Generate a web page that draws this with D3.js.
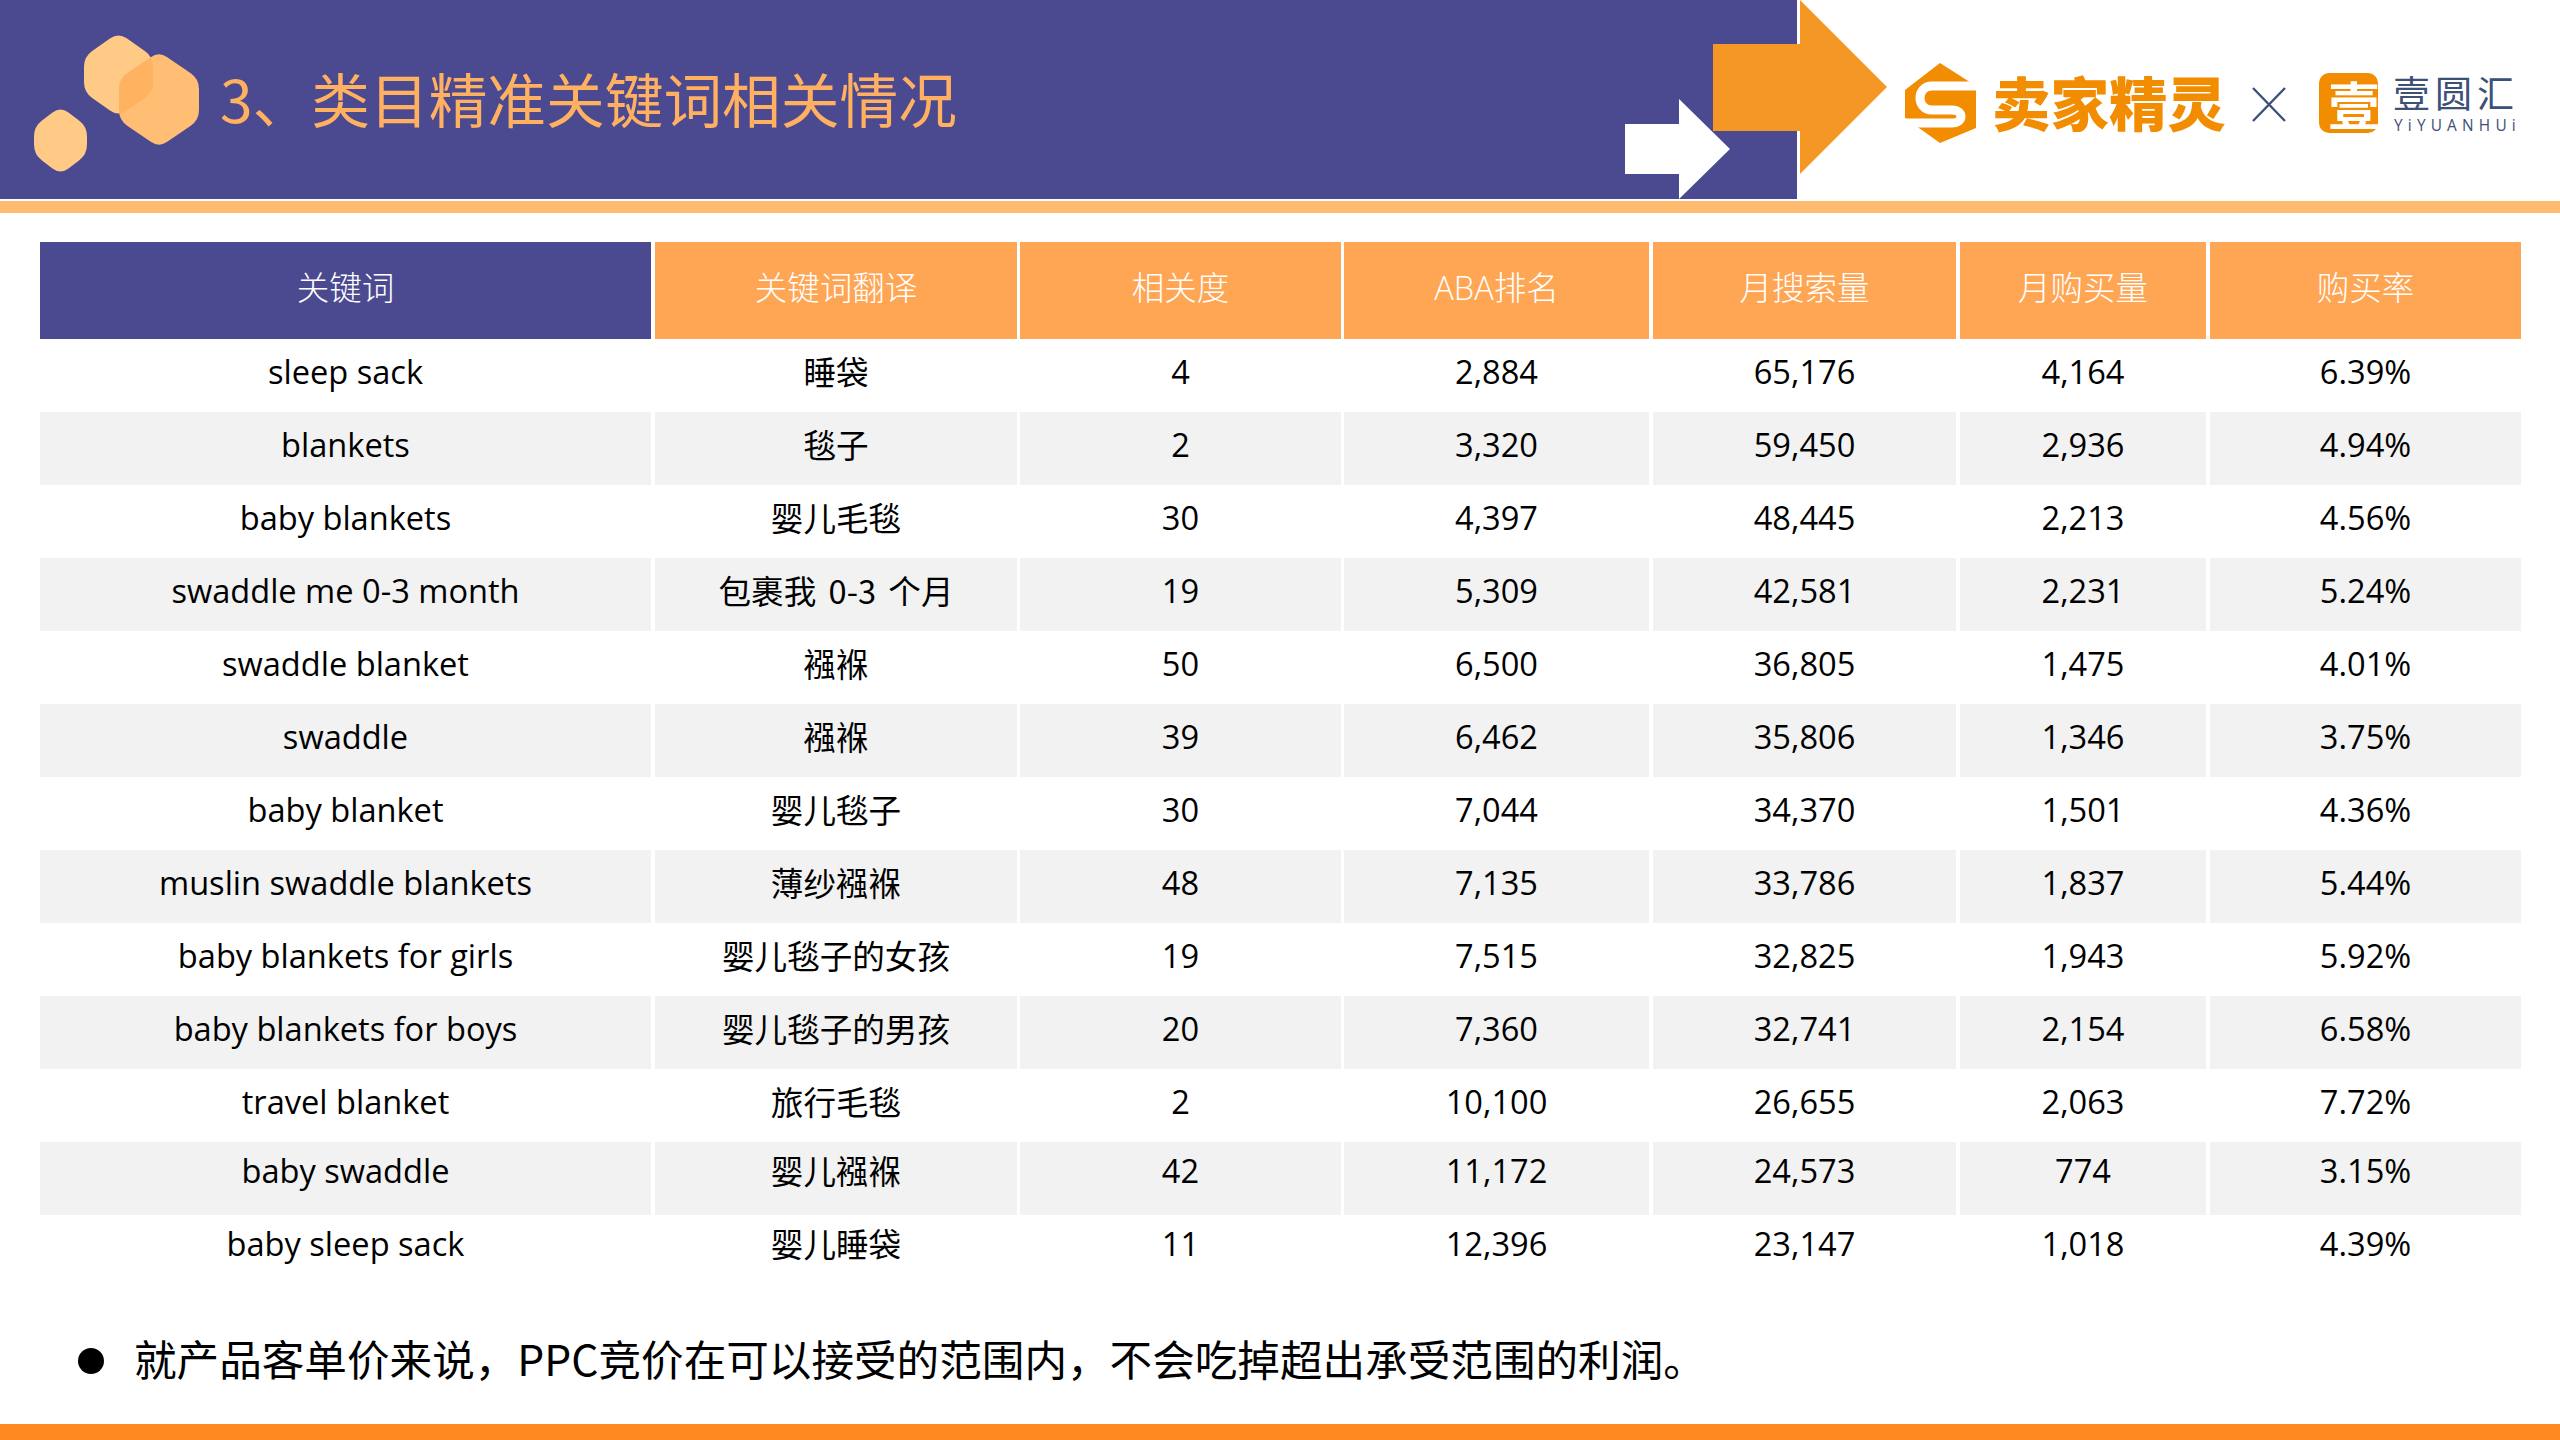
<!DOCTYPE html>
<html lang="zh"><head><meta charset="utf-8">
<script src="https://cdn.jsdelivr.net/npm/d3@7"></script>
<style>html,body{margin:0;padding:0;background:#fff}svg{display:block}</style>
</head><body><div id="chart"></div>
<script>
const headers = ["关键词","关键词翻译","相关度","ABA排名","月搜索量","月购买量","购买率"];
const keywords = ["sleep sack","blankets","baby blankets","swaddle me 0-3 month","swaddle blanket","swaddle","baby blanket","muslin swaddle blankets","baby blankets for girls","baby blankets for boys","travel blanket","baby swaddle","baby sleep sack"];
const translations = ["睡袋","毯子","婴儿毛毯","包裹我 0-3 个月","襁褓","襁褓","婴儿毯子","薄纱襁褓","婴儿毯子的女孩","婴儿毯子的男孩","旅行毛毯","婴儿襁褓","婴儿睡袋"];
const relevance = [4,2,30,19,50,39,30,48,19,20,2,42,11];
const abaRank = [2884,3320,4397,5309,6500,6462,7044,7135,7515,7360,10100,11172,12396];
const monthlySearch = [65176,59450,48445,42581,36805,35806,34370,33786,32825,32741,26655,24573,23147];
const monthlyBuy = [4164,2936,2213,2231,1475,1346,1501,1837,1943,2154,2063,774,1018];
const buyRate = [6.39,4.94,4.56,5.24,4.01,3.75,4.36,5.44,5.92,6.58,7.72,3.15,4.39];
const titleText = "3、类目精准关键词相关情况";
const noteText = "就产品客单价来说\uFF0CPPC竞价在可以接受的范围内\uFF0C不会吃掉超出承受范围的利润。";

const W=2560,H=1440;
const CJK='"Noto Sans CJK SC","Noto Sans",sans-serif';
const BODY='"Open Sans","Noto Sans CJK SC",sans-serif';
const svg=d3.select("#chart").append("svg").attr("width",W).attr("height",H).attr("viewBox",[0,0,W,H]);
const indigo="#4b4a90", hdr="#ffa655";

// banner
svg.append("rect").attr("width",1797).attr("height",199).attr("fill",indigo);
svg.append("rect").attr("y",201).attr("width",W).attr("height",12).attr("fill","#ffbb6f");
svg.append("rect").attr("y",1424).attr("width",W).attr("height",16).attr("fill","#ff8a1f");

// hexagons: rounded polygons
const hex=(x0,x1,y0,y1)=>{
 const c=(x0+x1)/2,d=(y1-y0)*0.27,t=3.5,
  v=[[c,y0-t],[x1,y0+d],[x1,y1-d],[c,y1+t],[x0,y1-d],[x0,y0+d]],r=10;
 const n=v.length;let s="";
 v.forEach((p,i)=>{const a=v[(i+n-1)%n],b=v[(i+1)%n];
  const la=Math.hypot(a[0]-p[0],a[1]-p[1]),lb=Math.hypot(b[0]-p[0],b[1]-p[1]);
  const p1=[p[0]+(a[0]-p[0])*r/la,p[1]+(a[1]-p[1])*r/la],p2=[p[0]+(b[0]-p[0])*r/lb,p[1]+(b[1]-p[1])*r/lb];
  s+=(i?"L":"M")+p1+"Q"+p+" "+p2;});
 return s+"Z";};
const hA=hex(84,153,36,113),hB=hex(119,199,55,144),hC=hex(34,87,110,171);
svg.append("clipPath").attr("id","hexclip").append("path").attr("d",hA);
svg.append("path").attr("d",hA).attr("fill","#ffc986");
svg.append("path").attr("d",hB).attr("fill","#ffbe73");
svg.append("path").attr("d",hB).attr("fill","#ffb25f").attr("clip-path","url(#hexclip)");
svg.append("path").attr("d",hC).attr("fill","#ffc986");
svg.append("text").attr("x",220).attr("y",97).attr("dominant-baseline","central").attr("font-family",CJK)
 .attr("font-weight",400).attr("font-size",58.7).attr("fill","#ffb060").text(titleText);

// arrows
svg.append("path").attr("d","M1625,124H1679V99L1730,149L1679,199V174H1625Z").attr("fill","#fff");
svg.append("path").attr("d","M1713,44H1800V0L1887,87L1800,174V131H1713Z").attr("fill","#f59725");

// logos
const logo="#f28c00";
svg.append("path").attr("d","M1940,63L1976,86V128L1940,143L1905,118V90Z").attr("fill",logo);
svg.append("path").attr("d","M1976,86H1932C1916,86 1916,110 1932,110H1952C1964,110 1964,123 1952,123H1905").attr("fill","none").attr("stroke","#fff").attr("stroke-width",9);
svg.append("text").attr("x",2109).attr("y",100).attr("text-anchor","middle").attr("dominant-baseline","central")
 .attr("font-family",CJK).attr("font-weight",900).attr("font-size",58.5).attr("fill",logo).text("卖家精灵");
svg.append("path").attr("d","M2253,88L2285,121M2285,88L2253,121").attr("stroke","#3d5078").attr("stroke-width",2.4).attr("fill","none");
svg.append("rect").attr("x",2319).attr("y",73).attr("width",59).attr("height",60).attr("rx",10).attr("fill",logo);
svg.append("text").attr("x",2354).attr("y",103).attr("text-anchor","middle").attr("dominant-baseline","central")
 .attr("font-family",CJK).attr("font-weight",700).attr("font-size",52).attr("fill","#fff").text("壹");
svg.append("text").attr("x",2393).attr("y",92).attr("dominant-baseline","central").attr("font-family",CJK)
 .attr("font-size",37).attr("letter-spacing",5).attr("fill","#3d5078").text("壹圆汇");
svg.append("text").attr("x",2394).attr("y",125).attr("dominant-baseline","central").attr("font-family",BODY)
 .attr("font-size",15.4).attr("letter-spacing",5.2).attr("fill","#3d5078").text("YiYUANHUi");

// table
const colLeft=[40,655,1020,1344,1653,1960,2210];
const colRight=[651,1017,1341,1649,1956,2206,2521];
const x0=d3.scaleOrdinal(headers,colLeft), x1=d3.scaleOrdinal(headers,colRight);
const cx=h=>(x0(h)+x1(h))/2;
const y=d3.scaleBand().domain(keywords).range([339,1288]);
const fmt=d3.format(",");
const cols=[keywords,translations,relevance,abaRank.map(fmt),monthlySearch.map(fmt),monthlyBuy.map(fmt),buyRate.map(v=>v.toFixed(2)+"%")];

svg.append("g").selectAll("rect").data(headers).join("rect")
 .attr("x",d=>x0(d)).attr("y",242).attr("width",d=>x1(d)-x0(d)).attr("height",97)
 .attr("fill",(d,i)=>i?hdr:indigo);
svg.append("g").selectAll("text").data(headers).join("text")
 .attr("x",cx).attr("y",287).attr("text-anchor","middle").attr("dominant-baseline","central")
 .attr("font-family",BODY).attr("font-weight",300).attr("font-size",32.5).attr("fill","#fff").text(d=>d);

const stripes=keywords.filter((d,i)=>i%2==1);
svg.append("g").selectAll("g").data(stripes).join("g").selectAll("rect")
 .data(k=>headers.map(h=>({k,h}))).join("rect")
 .attr("x",d=>x0(d.h)).attr("y",d=>y(d.k)).attr("width",d=>x1(d.h)-x0(d.h)).attr("height",y.bandwidth()).attr("fill","#f2f2f2");

headers.forEach((h,c)=>{
 svg.append("g").selectAll("text").data(keywords).join("text")
  .attr("x",cx(h)).attr("y",(k,i)=>y(k)+y.bandwidth()/2-(i>=11?8:4)-(c==1?1.5:0))
  .attr("text-anchor","middle").attr("dominant-baseline","central")
  .attr("font-family",c==1?CJK:BODY).attr("font-size",32.6).attr("word-spacing",c==1?5:0).attr("fill","#000")
  .text((k,i)=>cols[c][i]);
});

// note
svg.append("circle").attr("cx",91).attr("cy",1361).attr("r",13).attr("fill","#000");
svg.append("text").attr("x",134).attr("y",1357).attr("dominant-baseline","central").attr("font-family",CJK)
 .attr("font-size",42.6).attr("fill","#000").text(noteText);
</script></body></html>
